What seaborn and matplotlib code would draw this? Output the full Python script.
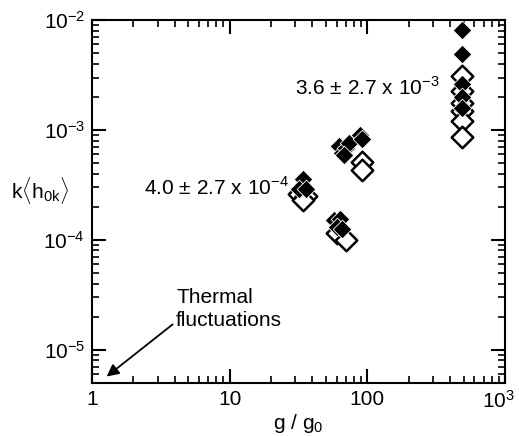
import pandas as pd
import matplotlib.pyplot as plt
import matplotlib.transforms as mtransforms
import seaborn as sns

# valores (g/g0, k<h0k>)
g_cheio = [34, 32, 36, 57, 63, 60, 66, 62, 66, 70, 74, 68, 88, 92, 490, 490, 490, 490, 490]
h_cheio = [3.6e-4, 2.9e-4, 2.9e-4, 1.5e-4, 1.55e-4, 1.3e-4, 1.25e-4, 7.2e-4, 6.2e-4, 6.8e-4, 7.6e-4, 5.9e-4,
           9.0e-4, 8.2e-4, 8.1e-3, 4.9e-3, 2.6e-3, 1.98e-3, 1.6e-3]
g_aberto = [32, 36, 34, 60, 70, 92, 92, 490, 490, 490, 490, 490, 490]
h_aberto = [2.6e-4, 2.5e-4, 2.3e-4, 1.15e-4, 1.0e-4, 5.1e-4, 4.3e-4, 3.1e-3, 2.25e-3, 1.75e-3, 1.48e-3, 1.2e-3, 8.6e-4]

if __name__ == '__main__':
    sns.set_style('ticks')
    plt.rcParams['font.family'] = ['Liberation Sans', 'DejaVu Sans']
    plt.rcParams['mathtext.fontset'] = 'custom'
    plt.rcParams['mathtext.rm'] = 'Liberation Sans'
    plt.rcParams['text.color'] = 'black'
    plt.rcParams['axes.labelcolor'] = 'black'

    df_cheio = pd.DataFrame({'g': g_cheio, 'h': h_cheio})
    df_aberto = pd.DataFrame({'g': g_aberto, 'h': h_aberto})

    fig = plt.figure(figsize=(5.19, 4.36), dpi=100)
    ax = fig.add_axes([0.177, 0.122, 0.796, 0.832])

    sns.scatterplot(ax=ax, x='g', y='h', data=df_aberto, marker='D', s=120,
                    facecolor='white', edgecolor='black', linewidth=1.8, zorder=3)
    sns.scatterplot(ax=ax, x='g', y='h', data=df_cheio, marker='D', s=90,
                    color='black', edgecolor='white', linewidth=0.6, zorder=4)

    ax.set_xscale('log')
    ax.set_yscale('log')
    ax.set_xlim(1, 1000)
    ax.set_ylim(5e-6, 1e-2)
    ax.set_xticks([1, 10, 100, 1000])
    ax.set_xticklabels(['1', '10', '100', r'$\mathregular{10^3}$'])
    ax.set_yticks([1e-5, 1e-4, 1e-3, 1e-2])
    ax.set_yticklabels([r'$\mathregular{10^{-5}}$', r'$\mathregular{10^{-4}}$',
                        r'$\mathregular{10^{-3}}$', r'$\mathregular{10^{-2}}$'])

    for lado in ax.spines.values():
        lado.set_linewidth(1.5)
        lado.set_color('black')
    ax.tick_params(which='both', direction='in', top=True, right=True, labelsize=15,
                   colors='black', pad=5)
    ax.tick_params(which='major', length=10, width=1.5)
    ax.tick_params(which='minor', length=5, width=1.2)

    # empurra o rotulo 10^3 um pouco para dentro da figura
    ultimo = ax.get_xticklabels()[-1]
    ultimo.set_transform(ultimo.get_transform() +
                         mtransforms.ScaledTranslation(-5 / 72, 0, fig.dpi_scale_trans))

    ax.set_xlabel(r'g / g$_\mathregular{0}$', fontsize=15, labelpad=0)
    ax.set_ylabel(r'k$\langle\mathregular{h_{0k}}\rangle$', fontsize=15, rotation=0,
                  ha='center', va='center')
    ax.yaxis.set_label_coords(-0.125, 0.53)

    ax.text(333, 2.45e-3, r'3.6 ± 2.7 x 10$^\mathregular{-3}$', fontsize=15, ha='right', va='center')
    ax.text(27, 3.0e-4, r'4.0 ± 2.7 x 10$^\mathregular{-4}$', fontsize=15, ha='right', va='center')
    ax.text(4.1, 2.35e-5, 'Thermal\nfluctuations', fontsize=15, ha='left', va='center',
            linespacing=1.3)
    ax.annotate('', xy=(1.28, 5.7e-6), xytext=(3.86, 1.7e-5),
                arrowprops=dict(arrowstyle='-|>', color='black', lw=1.3, mutation_scale=18,
                                shrinkA=0, shrinkB=0))

    plt.savefig('out.png', dpi=100)
